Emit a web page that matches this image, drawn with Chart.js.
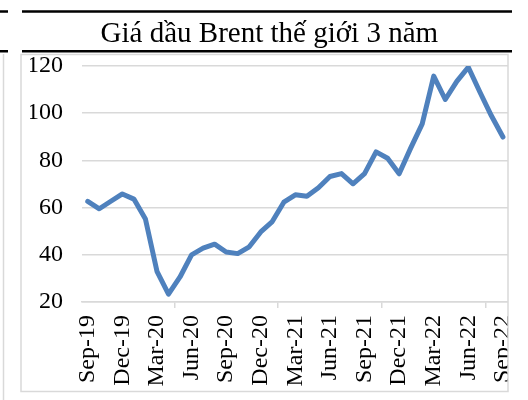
<!DOCTYPE html>
<html>
<head>
<meta charset="utf-8">
<script src="https://cdn.jsdelivr.net/npm/chart.js@4.4.0/dist/chart.umd.min.js"></script>
<style>
html, body { margin: 0; padding: 0; background: #fff; }
#wrap { position: relative; width: 528px; height: 400px; overflow: hidden; }
</style>
</head>
<body>
<div id="wrap"><canvas id="myChart" width="528" height="400"></canvas></div>
<script>
// monthly Brent price, Sep-19 .. Sep-22
var months = ['Sep-19','Oct-19','Nov-19','Dec-19','Jan-20','Feb-20','Mar-20','Apr-20','May-20',
    'Jun-20','Jul-20','Aug-20','Sep-20','Oct-20','Nov-20','Dec-20','Jan-21','Feb-21','Mar-21',
    'Apr-21','May-21','Jun-21','Jul-21','Aug-21','Sep-21','Oct-21','Nov-21','Dec-21','Jan-22',
    'Feb-22','Mar-22','Apr-22','May-22','Jun-22','Jul-22','Aug-22','Sep-22'];
var brent = [62.6, 59.5, 62.7, 65.8, 63.6, 55.2, 33.0, 23.3, 30.6, 40.0, 42.8, 44.5, 41.2,
    40.5, 43.4, 49.7, 54.1, 62.3, 65.4, 64.8, 68.4, 73.2, 74.4, 70.1, 74.4, 83.6, 80.9,
    74.3, 85.2, 95.5, 115.7, 105.8, 113.5, 119.5, 109.0, 98.9, 89.9];
var yTicks = [20, 40, 60, 80, 100, 120];
var labelEvery = 3; // a label every quarter

var serif = "'Liberation Serif', 'Times New Roman', serif";
var gridGrey = '#d9d9d9';

//clip at the box edge, then draw the frame lines of the page
const frame = {
    id: 'frame',
    beforeDraw(chart){
        const ctx = chart.ctx;
        ctx.save();
        ctx.beginPath();
        ctx.rect(0, 0, 508, 400);
        ctx.clip();
    },
    afterDraw(chart){
        const ctx = chart.ctx;
        ctx.restore();
        ctx.save();
        // grey box round the chart
        ctx.strokeStyle = gridGrey;
        ctx.lineWidth = 1.5;
        ctx.strokeRect(21, 54.5, 487, 337);
        // left neighbour box
        ctx.beginPath();
        ctx.moveTo(3.5, 54);
        ctx.lineTo(3.5, 400);
        ctx.stroke();
        // black rules
        ctx.strokeStyle = '#000';
        ctx.lineWidth = 2.5;
        ctx.beginPath();
        ctx.moveTo(22, 11.5); ctx.lineTo(512, 11.5);
        ctx.moveTo(0, 11.5); ctx.lineTo(8, 11.5);
        ctx.moveTo(22, 51.3); ctx.lineTo(512, 51.3);
        ctx.moveTo(0, 51.3); ctx.lineTo(8, 51.3);
        ctx.stroke();
        ctx.restore();
    }
};

const config = {
    type: 'line',
    data: {
        labels: months,
        datasets: [{
            data: brent,
            borderColor: '#4f81bd',
            borderWidth: 5,
            pointRadius: 0,
            tension: 0,
            borderJoinStyle: 'round',
            borderCapStyle: 'round',
            fill: false
        }]
    },
    plugins: [frame],
    options: {
        responsive: false,
        animation: false,
        layout: {
            padding: { left: 30, right: 19.3, top: 0, bottom: 0 }
        },
        plugins: {
            legend: { display: false },
            tooltip: { enabled: false },
            title: {
                display: true,
                text: 'Giá dầu Brent thế giới 3 năm',
                color: '#000',
                font: { family: serif, size: 29, weight: 'normal' },
                padding: { top: 17, bottom: 14.2 }
            }
        },
        scales: {
            x: {
                offset: true,
                grid: {
                    offset: true,
                    drawOnChartArea: false,
                    drawTicks: true,
                    tickLength: 6,
                    lineWidth: 1.5,
                    color: function(c){ return c.index % labelEvery === 0 ? gridGrey : 'rgba(0,0,0,0)'; }
                },
                border: { display: true, color: gridGrey, width: 1.5 },
                ticks: {
                    autoSkip: false,
                    maxRotation: 90,
                    minRotation: 90,
                    padding: 7,
                    color: '#000',
                    font: { family: serif, size: 24 },
                    callback: function(v, i){ return i % labelEvery === 0 ? months[i] : null; }
                },
                afterFit: function(s){
                    s.height = 98;
                    s.paddingLeft = 0;
                    s.paddingRight = 0;
                }
            },
            y: {
                min: yTicks[0],
                max: yTicks[yTicks.length - 1],
                ticks: {
                    stepSize: yTicks[1] - yTicks[0],
                    padding: 19,
                    color: '#000',
                    font: { family: serif, size: 24 }
                },
                grid: { color: gridGrey, lineWidth: 1.5, drawTicks: false },
                border: { display: false },
                afterFit: function(s){
                    s.width = 52;
                    s.paddingTop = 0;
                    s.paddingBottom = 0;
                }
            }
        }
    }
};

var myChart = new Chart(document.getElementById('myChart'), config);
</script>
</body>
</html>
